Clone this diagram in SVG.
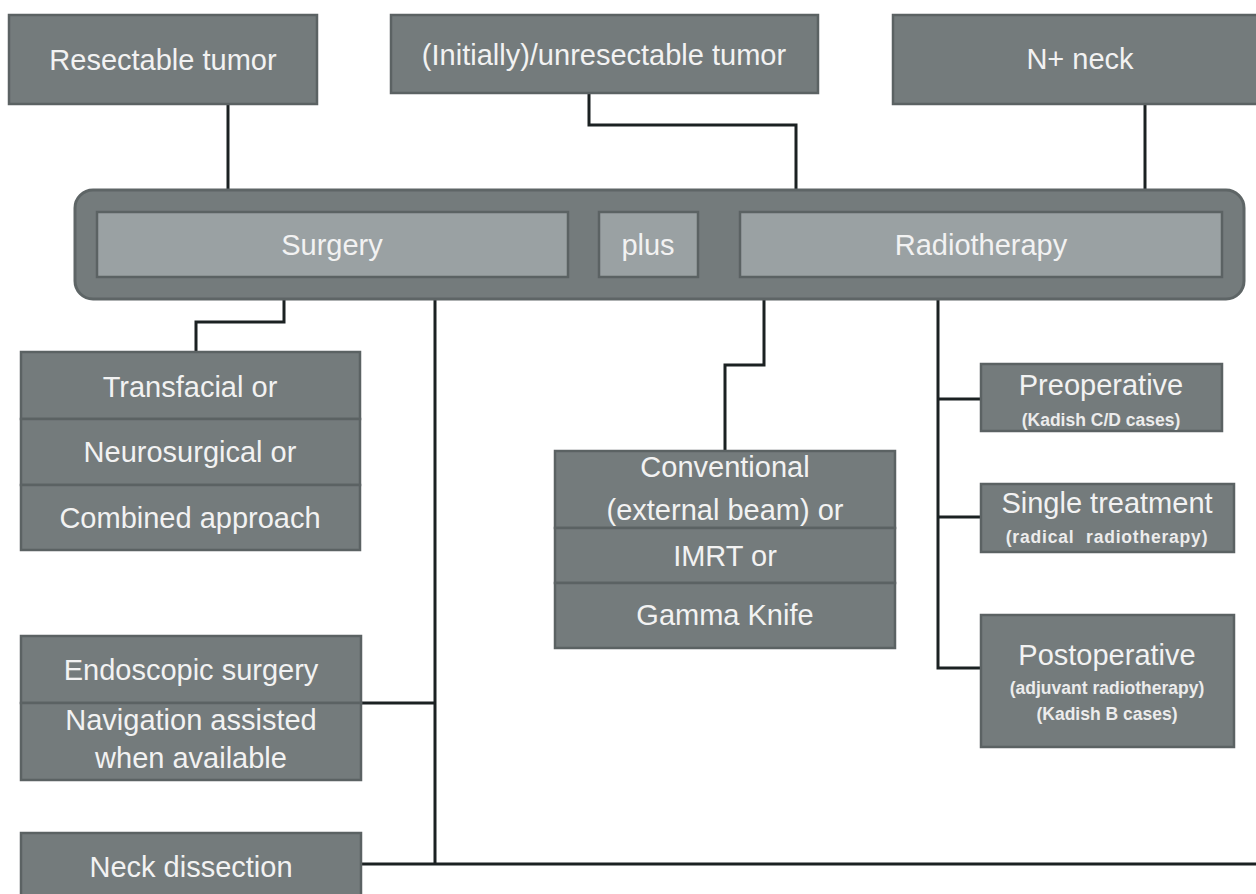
<svg xmlns="http://www.w3.org/2000/svg" width="1256" height="894" viewBox="0 0 1256 894">
<style>
.box{fill:#747b7c;stroke:#5b6263;stroke-width:2.5}
.light{fill:#9aa1a3;stroke:#5b6263;stroke-width:2.5}
.cont{fill:#747b7c;stroke:#5e6566;stroke-width:3}
.t{font-family:"Liberation Sans",Arial,sans-serif;font-size:29px;fill:#f2f2f2;text-anchor:middle}
.s{font-family:"Liberation Sans",Arial,sans-serif;font-size:17.5px;font-weight:bold;fill:#ececec;text-anchor:middle}
.c{fill:none;stroke:#1b2122;stroke-width:3}
</style>
<rect width="1256" height="894" fill="#ffffff"/>
<g id="connectors">
<path class="c" d="M228 104V190"/>
<path class="c" d="M589 93V125H796V212"/>
<path class="c" d="M1145 104V190"/>
<path class="c" d="M284 277V322H196V352"/>
<path class="c" d="M435 277V864"/>
<path class="c" d="M361 703H435"/>
<path class="c" d="M361 864H1256"/>
<path class="c" d="M764 277V365H725V451"/>
<path class="c" d="M938 277V668H981"/>
<path class="c" d="M938 399H981"/>
<path class="c" d="M938 517H981"/>
</g>
<g id="resectable">
<rect class="box" x="9" y="15" width="308" height="89"/>
<text class="t" x="163" y="70">Resectable tumor</text>
</g>
<g id="unresectable">
<rect class="box" x="391" y="15" width="427" height="78"/>
<text class="t" x="604" y="65">(Initially)/unresectable tumor</text>
</g>
<g id="nneck">
<rect class="box" x="893" y="15" width="380" height="89"/>
<text class="t" x="1080" y="69">N+ neck</text>
</g>
<g id="treatment">
<rect class="cont" x="75" y="190" width="1169" height="109" rx="18"/>
</g>
<g id="surgery">
<rect class="light" x="97" y="212" width="471" height="65"/>
<text class="t" x="332" y="255">Surgery</text>
</g>
<g id="plus">
<rect class="light" x="599" y="212" width="99" height="65"/>
<text class="t" x="648" y="255">plus</text>
</g>
<g id="radiotherapy">
<rect class="light" x="740" y="212" width="482" height="65"/>
<text class="t" x="981" y="255">Radiotherapy</text>
</g>
<g id="approach">
<rect class="box" x="21" y="352" width="339" height="67"/>
<rect class="box" x="21" y="419" width="339" height="66"/>
<rect class="box" x="21" y="485" width="339" height="65"/>
<text class="t" x="190" y="397">Transfacial or</text>
<text class="t" x="190" y="462">Neurosurgical or</text>
<text class="t" x="190" y="528">Combined approach</text>
</g>
<g id="endoscopic">
<rect class="box" x="21" y="636" width="340" height="67"/>
<rect class="box" x="21" y="703" width="340" height="77"/>
<text class="t" x="191" y="680">Endoscopic surgery</text>
<text class="t" x="191" y="730">Navigation assisted</text>
<text class="t" x="191" y="768">when available</text>
</g>
<g id="neckdissection">
<rect class="box" x="21" y="833" width="340" height="80"/>
<text class="t" x="191" y="877">Neck dissection</text>
</g>
<g id="techniques">
<rect class="box" x="555" y="451" width="340" height="77"/>
<rect class="box" x="555" y="528" width="340" height="55"/>
<rect class="box" x="555" y="583" width="340" height="65"/>
<text class="t" x="725" y="477">Conventional</text>
<text class="t" x="725" y="520">(external beam) or</text>
<text class="t" x="725" y="566">IMRT or</text>
<text class="t" x="725" y="625">Gamma Knife</text>
</g>
<g id="preoperative">
<rect class="box" x="981" y="364" width="241" height="67"/>
<text class="t" x="1101" y="395">Preoperative</text>
<text class="s" x="1101" y="426">(Kadish C/D cases)</text>
</g>
<g id="single">
<rect class="box" x="981" y="484" width="253" height="68"/>
<text class="t" x="1107" y="513">Single treatment</text>
<text class="s" x="1107" y="543" letter-spacing="0.8" word-spacing="6">(radical radiotherapy)</text>
</g>
<g id="postoperative">
<rect class="box" x="981" y="615" width="253" height="132"/>
<text class="t" x="1107" y="665">Postoperative</text>
<text class="s" x="1107" y="694">(adjuvant radiotherapy)</text>
<text class="s" x="1107" y="720">(Kadish B cases)</text>
</g>
</svg>
